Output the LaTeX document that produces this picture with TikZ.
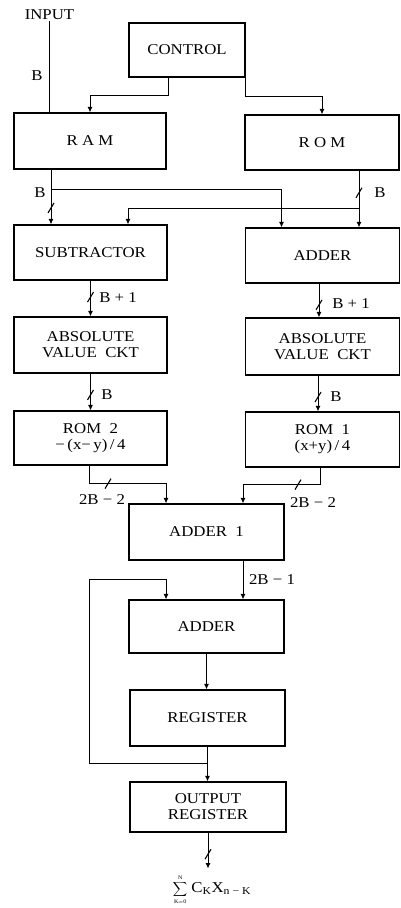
\documentclass[tikz,border=0pt]{standalone}
\usepackage{fontspec}
\setmainfont{Liberation Serif}[FakeStretch=1.12]
\usetikzlibrary{arrows.meta,calc}
\newcommand\slashmark[1]{\draw[tk] ($(#1)+(-3,5)$) -- ($(#1)+(3,-5)$);}
\begin{document}
\begin{tikzpicture}[x=1pt,y=-1pt,
  box/.style={draw,line width=1.2pt,rectangle,minimum width=154pt,minimum height=55pt,
    align=center,inner sep=0pt,font=\fontsize{15}{16}\selectfont},
  lbl/.style={inner sep=1pt,font=\fontsize{15}{16}\selectfont},
  ln/.style={line width=1pt},
  arr/.style={line width=1pt,-{Latex[length=5.5pt,width=5pt]}},
  tk/.style={line width=1.1pt}]
\useasboundingbox (0,0) rectangle (401,908);

% boxes
\node[box,minimum width=116pt,minimum height=54pt] (ctrl) at (187,50) {CONTROL};
\node[box,minimum width=152pt,minimum height=56pt] (ram) at (90,141) {R A M};
\node[box] (rom) at (322,142.5) {R O M};
\node[box,minimum width=153pt] (sub) at (90.5,252.5) {SUBTRACTOR};
\node[box] (addt) at (322.5,255.5) {ADDER};
\node[box,minimum width=153pt,minimum height=56pt] (absl) at (90.5,345) {ABSOLUTE\\VALUE~~CKT};
\node[box,minimum height=57pt] (absr) at (322.5,346.5) {ABSOLUTE\\VALUE~~CKT};
\node[box,minimum width=153pt,minimum height=54pt] (rom2) at (90.5,438) {ROM~~2\\−\,(x−\,y)\,/\,4};
\node[box] (rom1) at (322.5,439.5) {ROM~~1\\(x+y)\,/\,4};
\node[box,minimum width=155pt,minimum height=56pt] (add1) at (206.5,532) {ADDER~~1};
\node[box,minimum width=155pt,minimum height=53pt] (add2) at (206.5,626.5) {ADDER};
\node[box,minimum width=155pt,minimum height=56pt] (reg) at (207.5,718) {REGISTER};
\node[box,minimum width=156pt,minimum height=50pt] (oreg) at (208,807) {OUTPUT\\REGISTER};

% input
\node[lbl] (inp) at (49.5,15) {INPUT};
\draw[ln] (inp.south) -- (inp.south |- ram.north);
\node[lbl] (lb0) at (37,76) {B};

% control
\draw[arr] ([xshift=-19pt]ctrl.south) -- ++(0,18) -| (ram.north);
\draw[arr] (ctrl.south east) -- ++(0,19) -| (rom.north);

% RAM outputs
\coordinate (ramo) at ([xshift=-39pt]ram.south);
\draw[arr] (ramo) -- coordinate[pos=0.7] (s1) (ramo |- sub.north);
\draw[arr] (ramo) -- ++(0,20) -| ([xshift=-41pt]addt.north);
\slashmark{s1}
\node[lbl] (lb1) at (40,193) {B};

% ROM outputs
\coordinate (romo) at ([xshift=37pt]rom.south);
\draw[arr] (romo) -- coordinate[pos=0.39] (s2) (romo |- addt.north);
\draw[arr] (romo) -- ++(0,38) -| ([xshift=37.5pt]sub.north);
\slashmark{s2}
\node[lbl] (lb2) at (380,193) {B};

% to absolute value
\draw[arr] (sub.south) -- coordinate[pos=0.46] (s3) (absl.north);
\slashmark{s3}
\node[lbl] (lb3) at (118,298) {B + 1};
\draw[arr] ([xshift=-3.5pt]addt.south) -- coordinate[pos=0.63] (s4) ([xshift=-3.5pt]absr.north);
\slashmark{s4}
\node[lbl] (lb4) at (351,304) {B + 1};

% to ROMs
\draw[arr] (absl.south) -- coordinate[pos=0.58] (s5) (rom2.north);
\slashmark{s5}
\node[lbl] (lb5) at (107,395) {B};
\draw[arr] ([xshift=-4.5pt]absr.south) -- coordinate[pos=0.6] (s6) ([xshift=-4.5pt]rom1.north);
\slashmark{s6}
\node[lbl] (lb6) at (336,397) {B};

% to adder 1
\draw[arr] ([xshift=-1.5pt]rom2.south) -- ++(0,18) coordinate (c5) -| ([xshift=-40.5pt]add1.north);
\slashmark{$(c5)+(19,0)$}
\node[lbl] (lb7) at (102,500) {2B − 2};
\draw[arr] ([xshift=-2.5pt]rom1.south) -- ++(0,17) coordinate (c6) -| ([xshift=36.5pt]add1.north);
\slashmark{$(c6)+(-22,0)$}
\node[lbl] (lb8) at (313,503) {2B − 2};

% adder 1 to adder
\draw[arr] ([xshift=36.5pt]add1.south) -- ([xshift=36.5pt]add2.north);
\node[lbl] (lb9) at (272,580) {2B − 1};

% accumulator loop
\draw[arr] (add2.south) -- (add2.south |- reg.north);
\draw[arr] (reg.south) -- (reg.south |- oreg.north);
\coordinate (fb) at ([xshift=-40.5pt]add2.north);
\draw[arr] (reg.south) -- ++(0,17) -- ++(-118.5,0) |- ($(fb)+(0,-20)$) -- (fb);

% output
\node[inner sep=0pt] (sum) at (212,890) {\fontsize{11}{12}\selectfont$\displaystyle\sum\limits_{\scriptscriptstyle\mathrm{K=0}}^{\scriptscriptstyle\mathrm{N}}$\hspace{4pt}{\fontsize{15}{16}\selectfont C\textsubscript{K}X\textsubscript{n − K}}};
\draw[arr] (oreg.south) -- coordinate[pos=0.6] (s7) ++(0,36);
\slashmark{s7}
\end{tikzpicture}
\end{document}
